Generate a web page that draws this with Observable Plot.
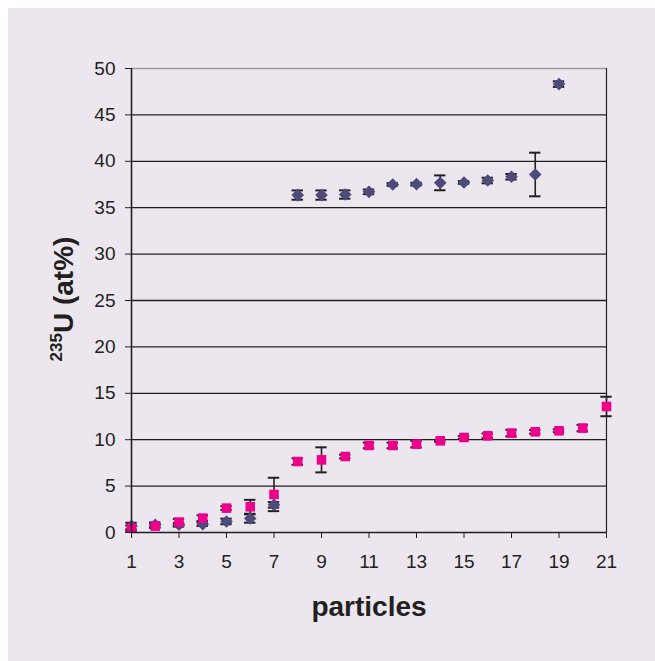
<!DOCTYPE html>
<html>
<head>
<meta charset="utf-8">
<script src="https://cdn.jsdelivr.net/npm/d3@7"></script>
<script src="https://cdn.jsdelivr.net/npm/@observablehq/plot@0.6"></script>
<style>
  html, body { margin: 0; padding: 0; background: #ffffff; }
  #wrap { position: relative; width: 655px; height: 661px; overflow: hidden; }
  #panel { position: absolute; left: 8px; top: 8px; width: 647px; height: 653px; background: #ece7ee; }
  #chart { position: absolute; left: 0; top: 0; }
</style>
</head>
<body>
<div id="wrap"><div id="panel"></div><div id="chart"></div></div>
<script>
// Particle index and 235U (at%) values
const blueX   = [1, 2, 3, 4, 5, 6, 7, 8, 9, 10, 11, 12, 13, 14, 15, 16, 17, 18, 19];
const blueY   = [0.7, 0.83, 0.83, 0.9, 1.19, 1.51, 2.98, 36.36, 36.36, 36.42, 36.71, 37.5, 37.54, 37.68, 37.72, 37.93, 38.33, 38.58, 48.32];
const blueErr = [0.35, 0.25, 0.2, 0.2, 0.3, 0.45, 0.3, 0.5, 0.5, 0.45, 0.25, 0.15, 0.15, 0.8, 0.15, 0.3, 0.3, 2.35, 0.3];

const pinkX   = [1, 2, 3, 4, 5, 6, 7, 8, 9, 10, 11, 12, 13, 14, 15, 16, 17, 18, 19, 20, 21];
const pinkY   = [0.47, 0.69, 1.12, 1.55, 2.63, 2.77, 4.1, 7.65, 7.83, 8.19, 9.38, 9.38, 9.52, 9.88, 10.24, 10.42, 10.71, 10.85, 10.96, 11.25, 13.58];
const pinkErr = [0.3, 0.2, 0.35, 0.3, 0.2, 0.75, 1.8, 0.35, 1.35, 0.2, 0.3, 0.3, 0.35, 0.1, 0.15, 0.25, 0.35, 0.2, 0.15, 0.35, 1.05];

const xTicks = [1, 3, 5, 7, 9, 11, 13, 15, 17, 19, 21];
const yTicks = [0, 5, 10, 15, 20, 25, 30, 35, 40, 45, 50];
const gridY  = [5, 10, 15, 20, 25, 30, 35, 40, 45];

const blue = blueX.map((x, i) => ({x, y: blueY[i], e: blueErr[i]}));
const pink = pinkX.map((x, i) => ({x, y: pinkY[i], e: pinkErr[i]}));

const ink = "#231f20";
const capHalf = 0.24;

function errMarks(data) {
  return [
    Plot.ruleX(data, {x: "x", y1: d => d.y - d.e, y2: d => d.y + d.e, stroke: ink, strokeWidth: 1.6}),
    Plot.ruleY(data, {y: d => d.y - d.e, x1: d => d.x - capHalf, x2: d => d.x + capHalf, stroke: ink, strokeWidth: 2}),
    Plot.ruleY(data, {y: d => d.y + d.e, x1: d => d.x - capHalf, x2: d => d.x + capHalf, stroke: ink, strokeWidth: 2})
  ];
}

const plot = Plot.plot({
  width: 655,
  height: 661,
  marginLeft: 131,
  marginRight: 49,
  marginTop: 68,
  marginBottom: 129,
  style: {background: "transparent", fontFamily: "'Liberation Sans', Arial, sans-serif", fontSize: "19px", color: ink},
  x: {domain: [1, 21], ticks: xTicks},
  y: {domain: [0, 50], ticks: yTicks},
  marks: [
    Plot.ruleY(gridY, {stroke: ink, strokeWidth: 1.3}),
    Plot.ruleY([50], {stroke: "#9a9a9a", strokeWidth: 1.3}),
    Plot.ruleX([21], {y1: 0, y2: 50, stroke: ink, strokeWidth: 1.2}),
    ...errMarks(blue),
    ...errMarks(pink),
    Plot.dot(blue, {x: "x", y: "y", symbol: "diamond2", r: 5.7, fill: "#4d4a7c", stroke: "none"}),
    Plot.dot(pink, {x: "x", y: "y", symbol: "square", r: 5.4, fill: "#ec008c", stroke: "none"}),
    Plot.ruleX([1], {y1: 0, y2: 50, stroke: ink, strokeWidth: 1.6}),
    Plot.ruleY([0], {stroke: ink, strokeWidth: 1.6}),
    Plot.axisX({ticks: xTicks, tickSize: 6, tickPadding: 16, label: null, fontSize: 19}),
    Plot.axisY({ticks: yTicks, tickSize: 6, tickPadding: 10, label: null, fontSize: 19}),
    Plot.text(["particles"], {frameAnchor: "bottom", dy: 83, lineAnchor: "bottom", fontSize: 28, fontWeight: "bold", fill: ink})
  ]
});

document.getElementById("chart").appendChild(plot);

// Y-axis title with superscript
const svg = d3.select(plot);
const t = svg.append("text")
  .attr("transform", "translate(73,299) rotate(-90)")
  .attr("text-anchor", "middle")
  .attr("fill", ink)
  .attr("font-family", "'Liberation Sans', Arial, sans-serif")
  .attr("font-weight", "bold")
  .attr("font-size", 28);
t.append("tspan").attr("font-size", 17).attr("dy", -11).text("235");
t.append("tspan").attr("dy", 11).text("U (at%)");
</script>
</body>
</html>
